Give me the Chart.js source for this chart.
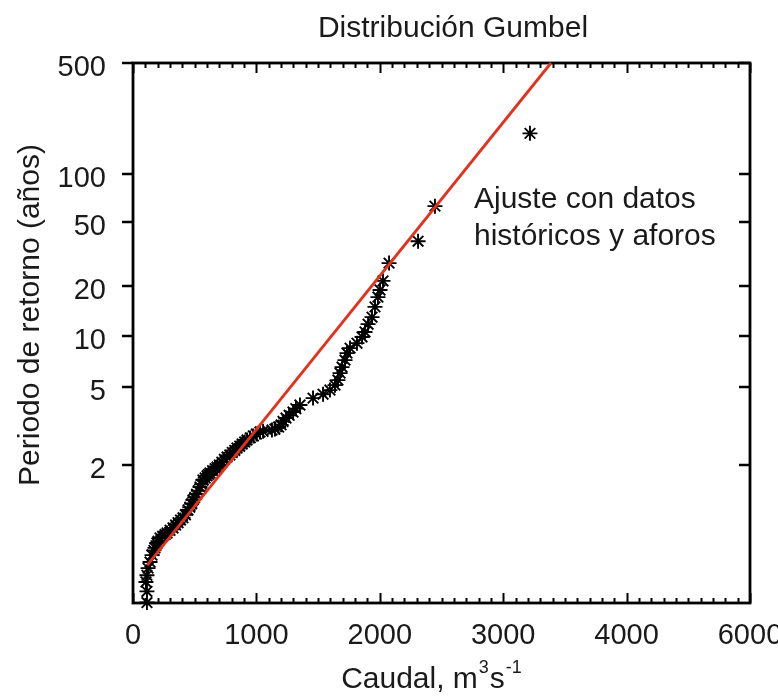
<!DOCTYPE html>
<html><head><meta charset="utf-8">
<script src="https://cdn.jsdelivr.net/npm/chart.js@4.4.1/dist/chart.umd.min.js"></script>
<style>html,body{margin:0;padding:0;background:#fff;}canvas{display:block;}</style>
</head><body>
<canvas id="c" width="778" height="697"></canvas>
<script>
// ---- texts ----
const titleText = 'Distribución Gumbel';
const yAxisTitle = 'Periodo de retorno (años)';
const xAxisTitleParts = ['Caudal, m', '3', 's', '-1'];
const noteLines = ['Ajuste con datos', 'históricos y aforos'];

// ---- ticks ----
const xTickValues = [0, 1000, 2000, 3000, 4000, 5000];
const xTickLabels = ['0', '1000', '2000', '3000', '4000', '6000'];
const yTickPeriods = [2, 5, 10, 20, 50, 100, 500];
const yTickLabels = ['2', '5', '10', '20', '50', '100', '500'];
const yRangePeriods = [1.0058, 500];

// ---- observed data (caudal m3/s, periodo de retorno años) ----
const caudal = [113,113,105,113,122,138,154,170,178,194,203,219,240,260,276,300,324,345,365,385,405,425,446,460,475,486,500,515,530,543,555,567,585,600,612,624,645,665,681,700,720,740,762,785,805,825,843,865,885,905,924,950,975,1000,1029,1054,1126,1150,1180,1200,1216,1240,1265,1297,1320,1353,1459,1540,1596,1637,1661,1678,1694,1718,1734,1759,1815,1856,1880,1905,1937,1961,1985,2002,2026,2075,2310,2447,3217];
const periodo = [1.006,1.013,1.023,1.033,1.047,1.062,1.083,1.10,1.11,1.131,1.14,1.156,1.165,1.175,1.184,1.20,1.215,1.235,1.252,1.272,1.29,1.315,1.358,1.385,1.42,1.461,1.49,1.53,1.575,1.626,1.665,1.731,1.765,1.80,1.825,1.848,1.89,1.93,1.96,2.0,2.06,2.12,2.172,2.22,2.28,2.33,2.392,2.44,2.5,2.56,2.615,2.68,2.74,2.8,2.867,2.89,2.934,2.97,3.04,3.12,3.25,3.386,3.5,3.644,3.8,3.975,4.34,4.56,4.81,5.13,5.48,6.01,6.51,7.15,7.86,8.41,9.0,9.8,10.5,11.7,12.9,14.9,17.1,18.9,21.5,27.7,37.9,62.8,180];

// ---- fitted Gumbel line ----
const fitCaudal = [116, 3387];
const fitPeriodo = [1.054, 500];

// Gumbel reduced variate (probability-paper scale)
const gumbel = T => -Math.log(-Math.log(1 - 1 / T));

const FONT = '"Liberation Sans", Arial, Helvetica, sans-serif';
const TXT = '#1a1a1a';

const decor = {
  id: 'decor',
  beforeDatasetsDraw(chart) {
    const ctx = chart.ctx, a = chart.chartArea;
    const xs = chart.scales.x, ys = chart.scales.y;
    ctx.save();
    ctx.strokeStyle = '#000';
    ctx.lineCap = 'butt';
    ctx.lineWidth = 2;
    for (let v = 0; v <= 5000; v += 100) {
      const px = Math.round(xs.getPixelForValue(v)) + 0.5;
      const major = v % 1000 === 0;
      const L = major ? 10 : 5;
      ctx.beginPath();
      ctx.moveTo(px, a.top); ctx.lineTo(px, a.top + L);
      ctx.moveTo(px, a.bottom); ctx.lineTo(px, a.bottom - L);
      ctx.stroke();
    }
    ctx.lineWidth = 2.5;
    yTickPeriods.forEach(T => {
      const py = Math.round(ys.getPixelForValue(gumbel(T)));
      ctx.beginPath();
      ctx.moveTo(a.left - 11, py); ctx.lineTo(a.left, py);
      ctx.moveTo(a.right, py); ctx.lineTo(a.right - 11, py);
      ctx.stroke();
    });
    ctx.lineWidth = 2.8;
    ctx.strokeRect(a.left, a.top, a.right - a.left, a.bottom - a.top);
    ctx.restore();
  },
  afterDraw(chart) {
    const ctx = chart.ctx;
    ctx.save();
    ctx.fillStyle = TXT;
    ctx.textBaseline = 'middle';
    ctx.font = '30px ' + FONT;
    ctx.textAlign = 'center';
    ctx.fillText(titleText, 453, 29);
    ctx.save();
    ctx.translate(31, 315);
    ctx.rotate(-Math.PI / 2);
    ctx.font = '30px ' + FONT;
    ctx.fillText(yAxisTitle, 0, 0);
    ctx.restore();
    const big = '30px ' + FONT, small = '18px ' + FONT;
    ctx.textAlign = 'left';
    const parts = xAxisTitleParts.map((t, i) => ({ t, sup: i % 2 === 1 }));
    let w = 0;
    parts.forEach(p => { ctx.font = p.sup ? small : big; p.w = ctx.measureText(p.t).width + (p.sup ? 2 : 0); w += p.w; });
    let x = 432 - w / 2;
    const yb = 680;
    parts.forEach(p => {
      ctx.font = p.sup ? small : big;
      ctx.fillText(p.t, x + (p.sup ? 1 : 0), p.sup ? yb - 12 : yb);
      x += p.w;
    });
    ctx.font = '30px ' + FONT;
    ctx.fillText(noteLines[0], 474, 200);
    ctx.fillText(noteLines[1], 474, 237);
    ctx.restore();
  }
};

new Chart(document.getElementById('c').getContext('2d'), {
  data: {
    datasets: [
      {
        type: 'line',
        data: fitCaudal.map((q, i) => ({ x: q, y: gumbel(fitPeriodo[i]) })),
        borderColor: '#e2321e', borderWidth: 2.8, pointRadius: 0, fill: false, order: 0, clip: false
      },
      {
        type: 'scatter',
        data: caudal.map((q, i) => ({ x: q, y: gumbel(periodo[i]) })),
        pointStyle: 'star', pointRadius: 7.5, borderColor: '#000', backgroundColor: '#000',
        borderWidth: 1.9, order: 1, clip: false
      }
    ]
  },
  options: {
    responsive: false, animation: false, devicePixelRatio: 1,
    layout: { padding: { top: 63, right: 28, left: 0, bottom: 0 } },
    plugins: { legend: { display: false }, tooltip: { enabled: false }, title: { display: false } },
    scales: {
      x: {
        type: 'linear', position: 'bottom', min: 0, max: 5000,
        afterBuildTicks: s => { s.ticks = xTickValues.map(v => ({ value: v })); },
        afterFit: s => { s.height = 94; s.paddingLeft = 0; s.paddingRight = 0; },
        grid: { display: false, drawTicks: false }, border: { display: false },
        ticks: { padding: 16, color: TXT, font: { family: FONT, size: 29 }, maxRotation: 0, autoSkip: false,
          callback: (v, i) => xTickLabels[i] }
      },
      y: {
        type: 'linear', position: 'left', min: gumbel(yRangePeriods[0]), max: gumbel(yRangePeriods[1]),
        afterBuildTicks: s => { s.ticks = yTickPeriods.map(T => ({ value: gumbel(T) })); },
        afterFit: s => { s.width = 133; s.paddingTop = 0; s.paddingBottom = 0; },
        grid: { display: false, drawTicks: false }, border: { display: false },
        ticks: { padding: 27, labelOffset: 5, color: TXT, font: { family: FONT, size: 29 }, autoSkip: false,
          callback: (v, i) => yTickLabels[i] }
      }
    }
  },
  plugins: [decor]
});
</script>
</body></html>
